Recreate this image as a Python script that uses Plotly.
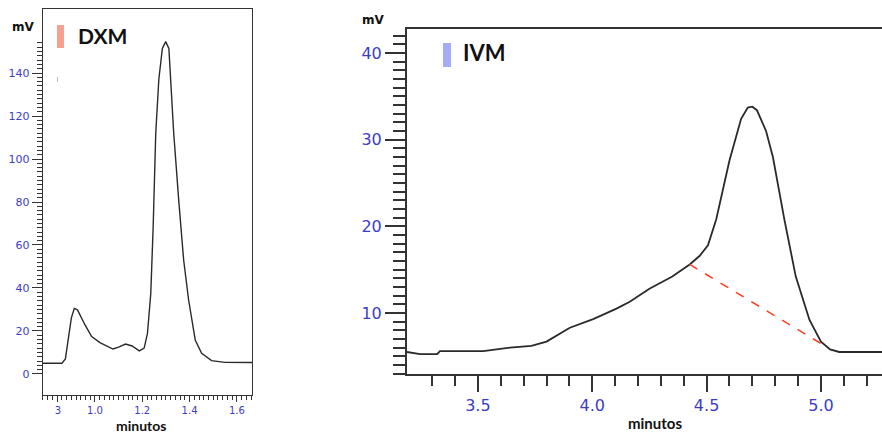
import plotly.graph_objects as go

# ---------------- data ----------------
dxm_t = [0.779, 0.86, 0.875, 0.90, 0.9125, 0.926, 0.958, 0.986, 1.021, 1.05, 1.076, 1.10,
         1.129, 1.157, 1.1875, 1.208, 1.222, 1.236, 1.246, 1.257, 1.27, 1.285, 1.299,
         1.3125, 1.333, 1.354, 1.375, 1.396, 1.424, 1.451, 1.493, 1.549, 1.664]
dxm_mv = [5, 5, 7, 26, 30.5, 29.8, 22.8, 17.4, 14.6, 13, 11.6, 12.5,
          13.9, 13, 10.7, 12, 18.9, 37.5, 68, 112, 137, 151.5, 154.6,
          151.5, 112, 81, 53, 34.4, 15.8, 9.6, 6.2, 5.4, 5.3]

ivm_t = [3.19, 3.247, 3.322, 3.334, 3.523, 3.64, 3.734, 3.80, 3.902, 4.004, 4.106, 4.164,
         4.25, 4.35, 4.426, 4.47, 4.506, 4.542, 4.60, 4.651, 4.68, 4.70, 4.72, 4.76,
         4.79, 4.84, 4.89, 4.95, 5.0, 5.04, 5.08, 5.267]
ivm_mv = [5.5, 5.25, 5.25, 5.6, 5.6, 6.0, 6.2, 6.7, 8.3, 9.3, 10.5, 11.3,
          12.8, 14.2, 15.6, 16.6, 17.8, 20.8, 27.6, 32.4, 33.7, 33.8, 33.4, 31.0,
          28.0, 20.8, 14.2, 9.2, 6.7, 5.8, 5.5, 5.5]

ivm_base_t = [4.426, 5.005]
ivm_base_mv = [15.6, 6.4]

dxm_xticks = [0.843, 1.0, 1.2, 1.4, 1.6]
dxm_xlabels = ["3", "1.0", "1.2", "1.4", "1.6"]
dxm_yticks = [0, 10, 20, 30, 40, 50, 60, 70, 80, 90, 100, 110, 120, 130, 140, 150]
dxm_ylabels = ["0", "", "20", "", "40", "", "60", "", "80", "", "100", "", "120", "", "140", ""]

ivm_xticks = [3.5, 4.0, 4.5, 5.0]
ivm_xlabels = ["3.5", "4.0", "4.5", "5.0"]
ivm_yticks = [5, 10, 15, 20, 25, 30, 35, 40]
ivm_ylabels = ["", "10", "", "20", "", "30", "", "40"]

# ---------------- layout helpers ----------------
W, H = 882, 435
def px(x):
    return x / W
def py(y):
    return 1 - y / H

BLUE = "#3c3cc8"
AX = "#333333"
tickfont_l = dict(family="DejaVu Sans", size=11, color=BLUE)
tickfont_lx = dict(family="DejaVu Sans", size=10, color=BLUE)
tickfont_r = dict(family="DejaVu Sans", size=16, color=BLUE)

fig = go.Figure()
fig.add_trace(go.Scatter(x=dxm_t, y=dxm_mv, mode="lines",
                         line=dict(color="#2a2a2a", width=1.4), xaxis="x", yaxis="y",
                         showlegend=False, hoverinfo="skip"))
fig.add_trace(go.Scatter(x=ivm_t, y=ivm_mv, mode="lines",
                         line=dict(color="#2a2a2a", width=1.8), xaxis="x2", yaxis="y2",
                         showlegend=False, hoverinfo="skip"))
fig.add_trace(go.Scatter(x=ivm_base_t, y=ivm_base_mv, mode="lines",
                         line=dict(color="#ff3b1f", width=1.5, dash="dash"),
                         xaxis="x2", yaxis="y2", showlegend=False, hoverinfo="skip"))

fig.update_layout(
    width=W, height=H, margin=dict(l=0, r=0, t=0, b=0),
    paper_bgcolor="white", plot_bgcolor="white",
    xaxis=dict(domain=[px(42.7), px(252)], range=[0.779, 1.664], anchor="y",
               showgrid=False, zeroline=False, showline=True, linecolor=AX, linewidth=1.2,
               mirror=True, ticks="outside", ticklen=6, tickcolor=AX, tickwidth=1,
               tickmode="array", tickvals=dxm_xticks, ticktext=dxm_xlabels,
               tickfont=tickfont_lx,
               minor=dict(ticks="outside", ticklen=4, tickcolor=AX, tickwidth=1,
                          tickmode="array",
                          tickvals=[round(0.78 + 0.02 * i, 3) for i in range(45)])),
    yaxis=dict(domain=[py(395), py(9)], range=[-9.8, 169.8], anchor="x",
               showgrid=False, zeroline=False, showline=True, linecolor=AX, linewidth=1.2,
               mirror=True, ticks="outside", ticklen=10, tickcolor=AX, tickwidth=1,
               tickmode="array", tickvals=dxm_yticks, ticktext=dxm_ylabels,
               tickfont=tickfont_l,
               minor=dict(ticks="outside", ticklen=5, tickcolor=AX, tickwidth=1,
                          tickmode="array", tickvals=[2 * i for i in range(78)])),
    xaxis2=dict(domain=[px(407), 1.0], range=[3.19, 5.267], anchor="y2",
                showgrid=False, zeroline=False, showline=True, linecolor=AX, linewidth=2,
                mirror=True, ticks="outside", ticklen=16, tickcolor=AX, tickwidth=2,
                tickmode="array", tickvals=ivm_xticks, ticktext=ivm_xlabels,
                tickfont=tickfont_r,
                minor=dict(ticks="outside", ticklen=10, tickcolor=AX, tickwidth=2,
                           tickmode="array",
                           tickvals=[round(3.3 + 0.1 * i, 2) for i in range(20)])),
    yaxis2=dict(domain=[py(374), py(29)], range=[2.96, 42.77], anchor="x2",
                showgrid=False, zeroline=False, showline=True, linecolor=AX, linewidth=2,
                mirror=False, ticks="outside", ticklen=20, tickcolor=AX, tickwidth=2,
                tickmode="array", tickvals=ivm_yticks, ticktext=ivm_ylabels,
                tickfont=tickfont_r,
                minor=dict(ticks="outside", ticklen=12, tickcolor=AX, tickwidth=2,
                           tickmode="array", tickvals=list(range(3, 43)))),
)

# legend-like colour bars
fig.add_shape(type="rect", xref="paper", yref="paper",
              x0=px(57), x1=px(64), y0=py(48), y1=py(25),
              fillcolor="#f7a091", line=dict(width=0))
fig.add_shape(type="rect", xref="paper", yref="paper",
              x0=px(443), x1=px(451), y0=py(67), y1=py(43),
              fillcolor="#a3acf7", line=dict(width=0))
fig.add_shape(type="line", xref="paper", yref="paper",
              x0=px(57.5), x1=px(57.5), y0=py(82), y1=py(77),
              line=dict(color="#b8b8b8", width=1))

ann = [
    dict(text="DXM", x=px(76), y=py(36), xanchor="left", yanchor="middle",
         font=dict(family="Lato", size=21, color="#111111", weight="bold")),
    dict(text="IVM", x=px(461), y=py(53), xanchor="left", yanchor="middle",
         font=dict(family="Lato", size=22, color="#111111", weight="bold")),
    dict(text="mV", x=px(23), y=py(27), xanchor="center", yanchor="middle",
         font=dict(family="DejaVu Sans", size=12, color="#111111", weight="bold")),
    dict(text="mV", x=px(373), y=py(20), xanchor="center", yanchor="middle",
         font=dict(family="DejaVu Sans", size=12, color="#111111", weight="bold")),
    dict(text="minutos", x=px(141), y=py(435), xanchor="center", yanchor="bottom",
         borderpad=0, font=dict(family="Lato", size=14, color="#111111", weight="bold")),
    dict(text="minutos", x=px(655), y=py(423), xanchor="center", yanchor="middle",
         font=dict(family="Lato", size=15, color="#111111", weight="bold")),
]
for a in ann:
    fig.add_annotation(xref="paper", yref="paper", showarrow=False, **a)

fig.write_html("out.html")
